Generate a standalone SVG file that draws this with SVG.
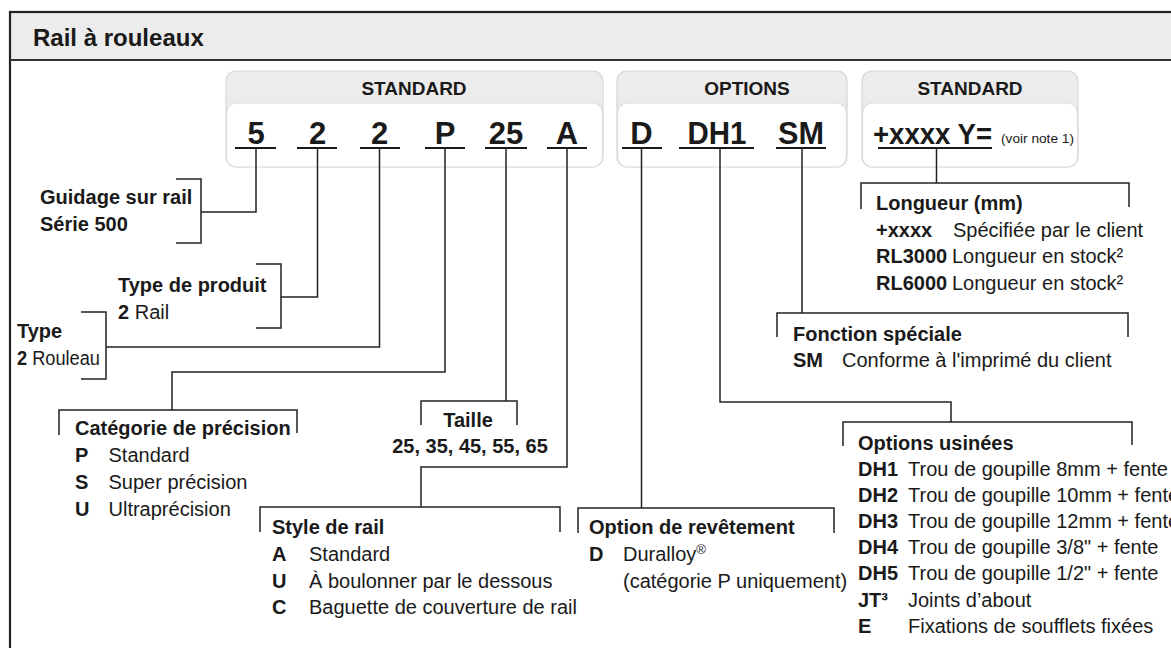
<svg xmlns="http://www.w3.org/2000/svg" width="1171" height="648" viewBox="0 0 1171 648">
<style>
text{font-family:"Liberation Sans",Arial,sans-serif;fill:#1a1a1a}
.t{font-size:20px}
.b{font-weight:bold}
.hd{font-size:19px;font-weight:bold;text-anchor:middle}
.cd{font-size:31px;font-weight:bold;text-anchor:middle}
.ul{stroke:#1a1a1a;stroke-width:2;fill:none}
.ln{stroke:#222;stroke-width:1.5;fill:none}
.box{fill:#ececec;stroke:#d6d6d6;stroke-width:1.2}
.inner{fill:#fff;stroke:#dedede;stroke-width:1.2}
</style>
<rect x="0" y="0" width="1171" height="648" fill="#fff"/>
<g id="frame">
<rect x="10" y="12" width="1200" height="48" fill="#ececec"/>
<rect x="10" y="12" width="1200" height="700" fill="none" stroke="#222" stroke-width="2.2"/>
<line x1="10" y1="60" x2="1171" y2="60" stroke="#333" stroke-width="1.8"/>
<text x="33" y="46" class="b" style="font-size:24px">Rail à rouleaux</text>
</g>
<g id="box-standard-1">
<rect class="box" x="226" y="71" width="377" height="96" rx="10"/>
<rect class="inner" x="226.5" y="103" width="376" height="64" rx="10"/>
<text x="414" y="95" class="hd">STANDARD</text>
<text x="256" y="144" class="cd">5</text>
<text x="317.5" y="144" class="cd">2</text>
<text x="379.5" y="144" class="cd">2</text>
<text x="445" y="144" class="cd">P</text>
<text x="506" y="144" class="cd">25</text>
<text x="567" y="144" class="cd">A</text>
<path class="ul" d="M235 148H276M297 148H337M360 148H400M425 148H465M485 148H527M547 148H587"/>
</g>
<g id="box-options">
<rect class="box" x="617" y="71" width="230" height="96" rx="10"/>
<rect class="inner" x="617.5" y="103" width="229" height="64" rx="10"/>
<text x="747" y="95" class="hd">OPTIONS</text>
<text x="641.5" y="144" class="cd">D</text>
<text x="717" y="144" class="cd" textLength="59" lengthAdjust="spacingAndGlyphs">DH1</text>
<text x="801" y="144" class="cd" textLength="46" lengthAdjust="spacingAndGlyphs">SM</text>
<path class="ul" d="M622 148H662M679 148H754M776 148H826"/>
</g>
<g id="box-standard-2">
<rect class="box" x="862" y="71" width="216" height="96" rx="10"/>
<rect class="inner" x="862.5" y="103" width="215" height="64" rx="10"/>
<text x="970" y="95" class="hd">STANDARD</text>
<text x="873" y="144" class="b" style="font-size:30px" textLength="119" lengthAdjust="spacingAndGlyphs">+xxxx Y=</text>
<text x="1001" y="143" style="font-size:12px" textLength="73" lengthAdjust="spacingAndGlyphs">(voir note 1)</text>
<path class="ul" d="M878 148H992"/>
</g>
<g id="connectors">
<path class="ln" d="M256 148V212H201M176 179H201V243H176"/>
<path class="ln" d="M317.5 148V297H281M256 264H281V328H256"/>
<path class="ln" d="M379.5 148V347H106M81 312H106V379H81"/>
<path class="ln" d="M445 148V372H172V410M59 435V410H297V433"/>
<path class="ln" d="M506 148V401M421 425V401H517V425"/>
<path class="ln" d="M567 148V467H421V507M260 532V507H560V532"/>
<path class="ln" d="M641.5 148V508M578 533V508H834V533"/>
<path class="ln" d="M720 148V402H951V422M843 446V422H1132V445"/>
<path class="ln" d="M802 148V313M777 337V313H1128V337"/>
<path class="ln" d="M936.5 148V183M861 209V183H1129V207"/>
</g>
<g id="n-guidage" class="t">
<text x="40" y="204" class="b">Guidage sur rail</text>
<text x="40" y="231" class="b">Série 500</text>
</g>
<g id="n-type-produit" class="t">
<text x="118" y="292" class="b">Type de produit</text>
<text x="118" y="318.5"><tspan class="b">2</tspan> Rail</text>
</g>
<g id="n-type" class="t">
<text x="17" y="338" class="b">Type</text>
<text x="17" y="365" textLength="83" lengthAdjust="spacingAndGlyphs"><tspan class="b">2</tspan> Rouleau</text>
</g>
<g id="n-categorie" class="t">
<text x="75" y="435" class="b">Catégorie de précision</text>
<text x="75" y="462" class="b">P</text><text x="108.5" y="462">Standard</text>
<text x="75" y="489" class="b">S</text><text x="108.5" y="489">Super précision</text>
<text x="75" y="516" class="b">U</text><text x="108.5" y="516">Ultraprécision</text>
</g>
<g id="n-taille" class="t">
<text x="468" y="427" class="b" text-anchor="middle">Taille</text>
<text x="470" y="453" class="b" text-anchor="middle">25, 35, 45, 55, 65</text>
</g>
<g id="n-style" class="t">
<text x="272" y="534" class="b">Style de rail</text>
<text x="272" y="561" class="b">A</text><text x="309" y="561">Standard</text>
<text x="272" y="587.5" class="b">U</text><text x="309" y="587.5">À boulonner par le dessous</text>
<text x="272" y="614" class="b">C</text><text x="309" y="614">Baguette de couverture de rail</text>
</g>
<g id="n-revetement" class="t">
<text x="589" y="534" class="b">Option de revêtement</text>
<text x="589" y="561" class="b">D</text><text x="623" y="561">Duralloy<tspan style="font-size:13px" dy="-7">®</tspan></text>
<text x="623" y="587.5">(catégorie P uniquement)</text>
</g>
<g id="n-usinees" class="t">
<text x="858" y="450" class="b">Options usinées</text>
<text x="858" y="476" class="b">DH1</text><text x="908" y="476">Trou de goupille 8mm + fente</text>
<text x="858" y="502" class="b">DH2</text><text x="908" y="502">Trou de goupille 10mm + fente</text>
<text x="858" y="528" class="b">DH3</text><text x="908" y="528">Trou de goupille 12mm + fente</text>
<text x="858" y="554" class="b">DH4</text><text x="908" y="554">Trou de goupille 3/8" + fente</text>
<text x="858" y="580" class="b">DH5</text><text x="908" y="580">Trou de goupille 1/2" + fente</text>
<text x="858" y="607" class="b">JT³</text><text x="908" y="607">Joints d’about</text>
<text x="858" y="633" class="b">E</text><text x="908" y="633">Fixations de soufflets fixées</text>
</g>
<g id="n-longueur" class="t">
<text x="876" y="210" class="b">Longueur (mm)</text>
<text x="876" y="236.7" class="b">+xxxx</text><text x="953" y="236.7">Spécifiée par le client</text>
<text x="876" y="263.3" class="b">RL3000</text><text x="952" y="263.3">Longueur en stock²</text>
<text x="876" y="290" class="b">RL6000</text><text x="952" y="290">Longueur en stock²</text>
</g>
<g id="n-fonction" class="t">
<text x="793" y="340.5" class="b">Fonction spéciale</text>
<text x="793" y="366.7" class="b">SM</text><text x="842" y="366.7">Conforme à l'imprimé du client</text>
</g>
</svg>
